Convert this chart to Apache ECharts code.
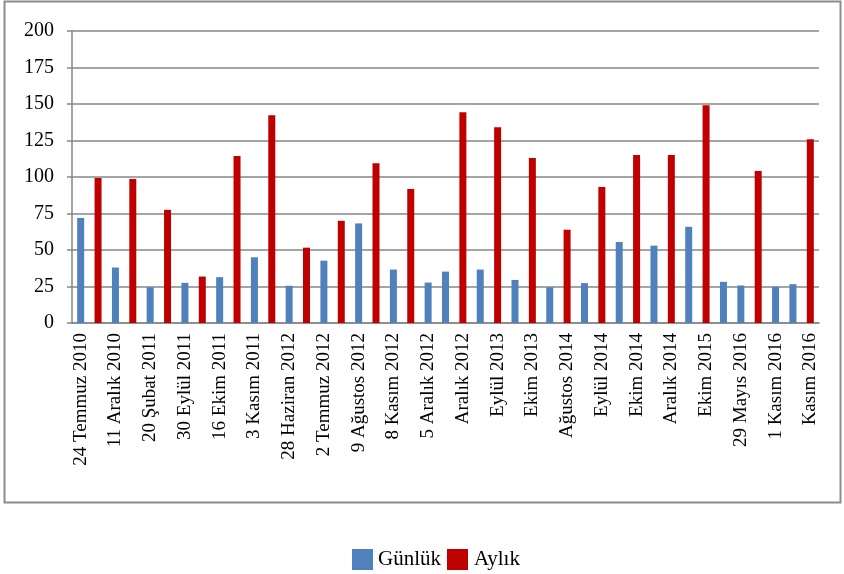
<!DOCTYPE html>
<html>
<head>
<meta charset="utf-8">
<script src="https://cdn.jsdelivr.net/npm/echarts@6/dist/echarts.min.js"></script>
<style>
  html, body { margin: 0; padding: 0; background: #fff; }
  #chart { width: 844px; height: 574px; }
</style>
</head>
<body>
<div id="chart"></div>
<script>
// kategoriler: sadece çift sıradakilerin etiketi görünüyor
var categories = [
  "24 Temmuz 2010", "", "11 Aralık 2010", "", "20 Şubat 2011", "", "30 Eylül 2011", "",
  "16 Ekim 2011", "", "3 Kasım 2011", "", "28 Haziran 2012", "", "2 Temmuz 2012", "",
  "9 Ağustos 2012", "", "8 Kasım 2012", "", "5 Aralık 2012", "", "Aralık 2012", "",
  "Eylül 2013", "", "Ekim 2013", "", "Ağustos 2014", "", "Eylül 2014", "",
  "Ekim 2014", "", "Aralık 2014", "", "Ekim 2015", "", "29 Mayıs 2016", "",
  "1 Kasım 2016", "", "Kasım 2016"
];

var gunluk = [
  72, null, 38, null, 24.5, null, 27.5, null, 31.4, null, 45, null, 25.5, null, 42.7, null,
  68.2, null, 36.6, null, 27.7, 35.2, null, 36.6, null, 29.5, null, 24.5, null, 27.3, null, 55.5,
  null, 53, null, 65.9, null, 28.2, 25.7, null, 24.8, 26.6, null
];

var aylik = [
  null, 99.4, null, 98.6, null, 77.5, null, 31.8, null, 114.3, null, 142.3, null, 51.6, null, 70,
  null, 109.5, null, 91.8, null, null, 144.3, null, 134.1, null, 113, null, 63.9, null, 93.2, null,
  115, null, 115, null, 149.1, null, null, 104.1, null, null, 125.9
];

var yTicks = { min: 0, max: 200, interval: 25 };

var font = "'Liberation Serif', 'Times New Roman', serif";
var gray = "#878787";

var myChart = echarts.init(document.getElementById("chart"));
myChart.setOption({
  animation: false,
  textStyle: { fontFamily: font },
  graphic: [
    {
      type: "rect",
      shape: { x: 4.5, y: 1.5, width: 836, height: 501 },
      style: { fill: "none", stroke: "#8c8c8c", lineWidth: 2 },
      silent: true
    }
  ],
  grid: { left: 72, right: 25, top: 31, bottom: 251 },
  legend: {
    left: 347,
    top: 544,
    itemWidth: 21,
    itemHeight: 21,
    itemGap: 6,
    icon: "rect",
    textStyle: { fontFamily: font, fontSize: 21, color: "#000" },
    data: ["Günlük", { name: "Aylık", textStyle: { padding: [0, 0, 0, 1] } }]
  },
  xAxis: {
    type: "category",
    data: categories,
    axisLine: { lineStyle: { color: gray, width: 1.5 } },
    axisTick: { interval: 0, length: 5, lineStyle: { color: gray, width: 1.5 } },
    axisLabel: {
      interval: 0,
      rotate: 90,
      margin: 10,
      fontFamily: font,
      fontSize: 19,
      color: "#000"
    }
  },
  yAxis: {
    type: "value",
    min: yTicks.min,
    max: yTicks.max,
    interval: yTicks.interval,
    axisLine: { show: true, lineStyle: { color: gray, width: 1.5 } },
    axisTick: { show: true, length: 5, lineStyle: { color: gray, width: 1.5 } },
    axisLabel: { margin: 18, fontFamily: font, fontSize: 20, color: "#000" },
    splitLine: { lineStyle: { color: gray, width: 1.5 } }
  },
  series: [
    {
      name: "Günlük",
      type: "bar",
      data: gunluk,
      barWidth: 7,
      barGap: "-100%",
      itemStyle: { color: "#4f81bd" }
    },
    {
      name: "Aylık",
      type: "bar",
      data: aylik,
      barWidth: 7,
      barGap: "-100%",
      itemStyle: { color: "#c00000" }
    }
  ]
});
</script>
</body>
</html>
